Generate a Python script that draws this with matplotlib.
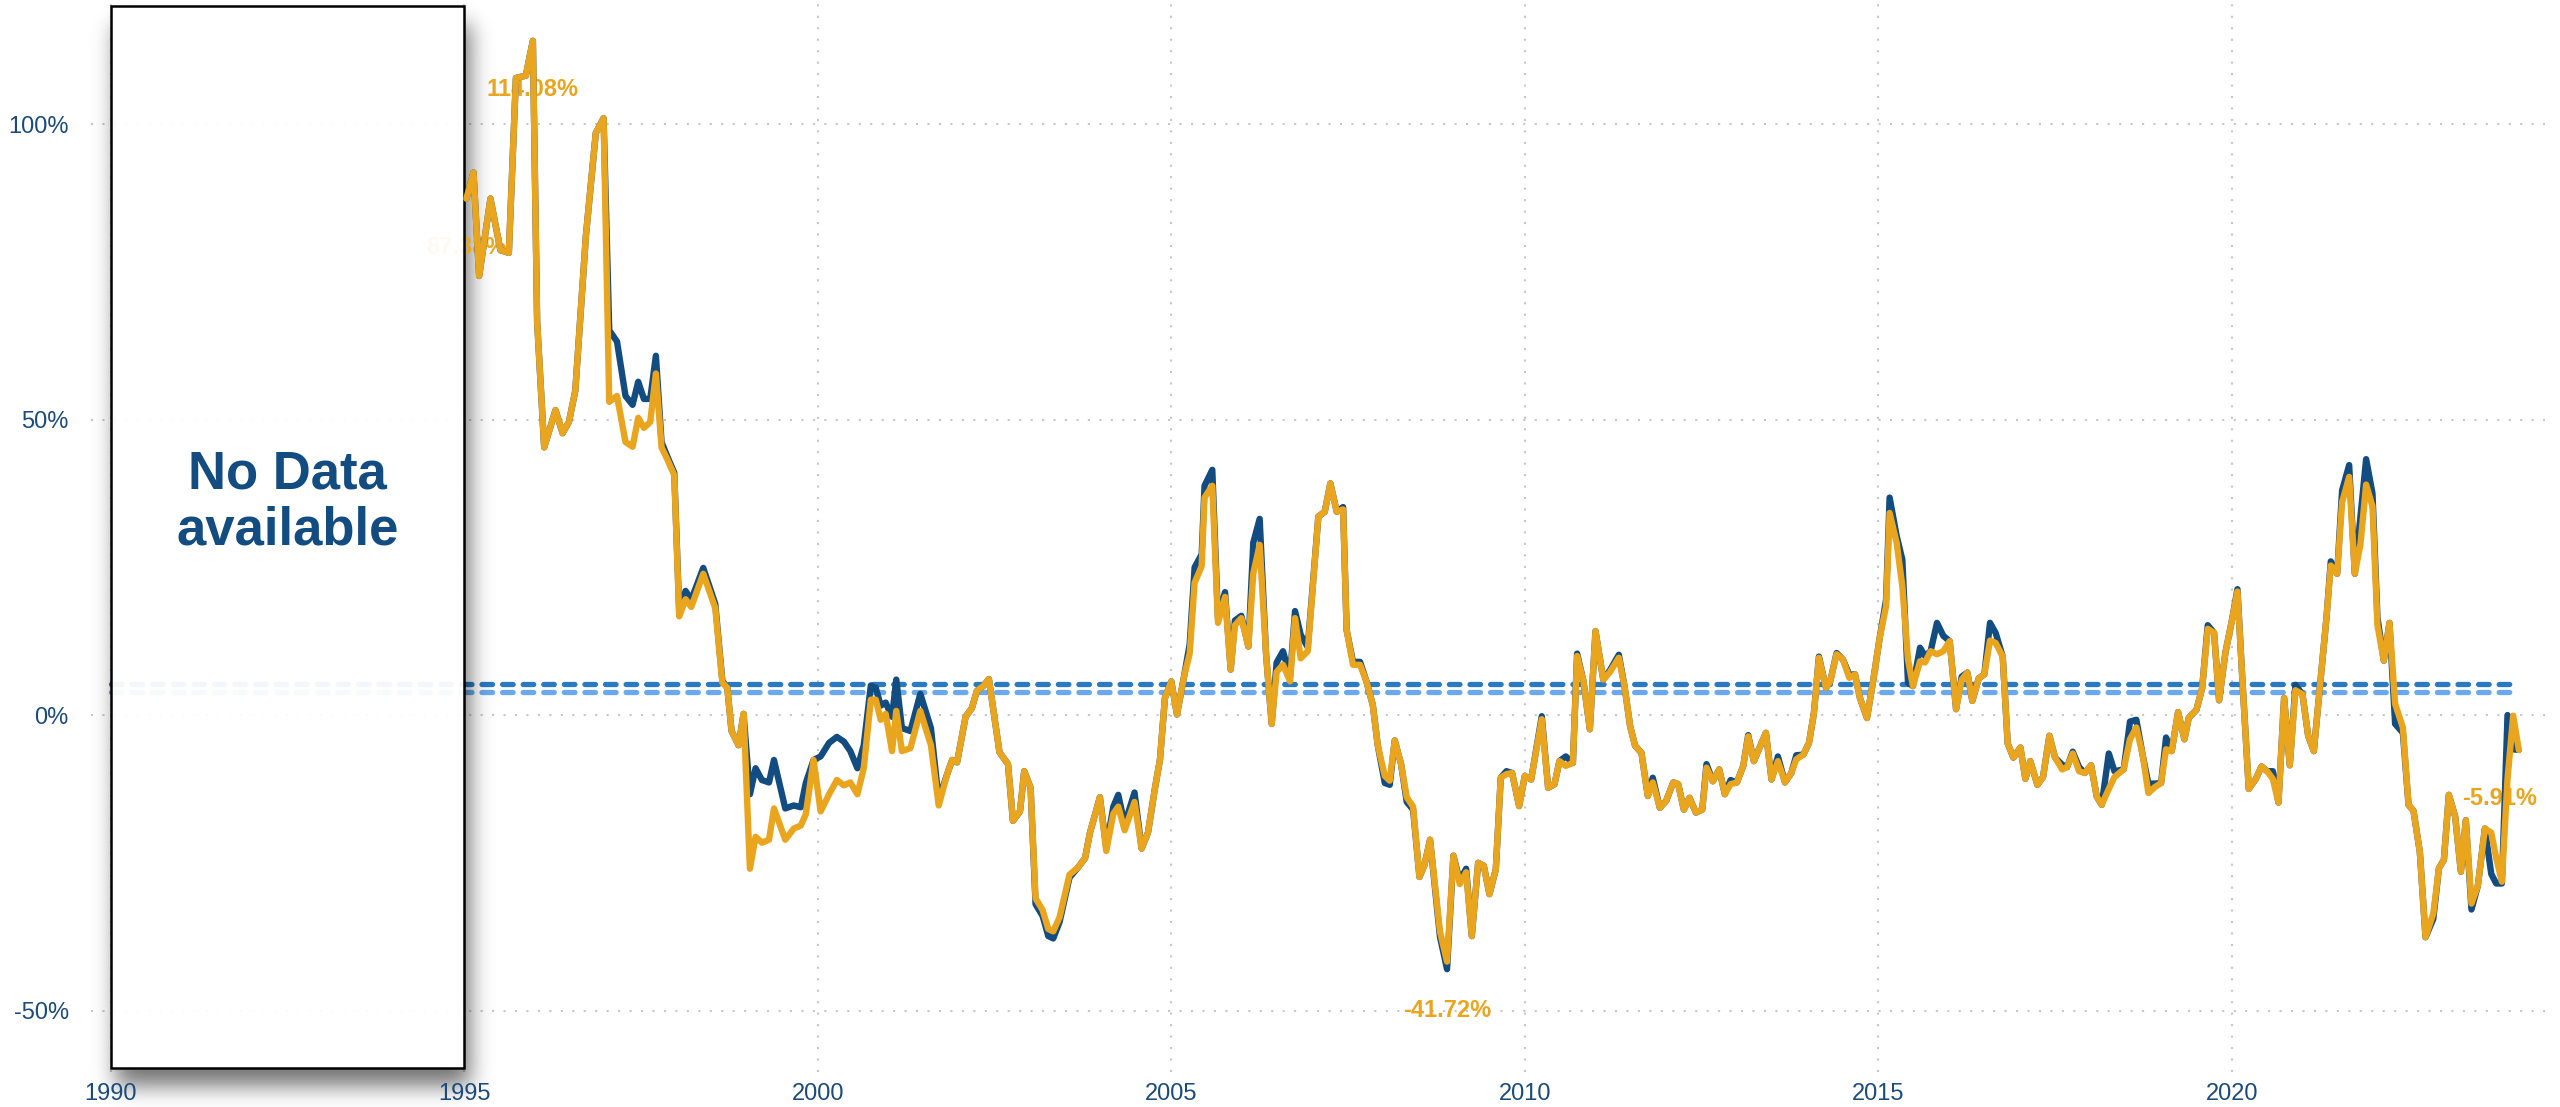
"""
Year-over-year change, two series, with a "No Data" window before 1995.
Output: out.png
"""

import numpy as np
import matplotlib
matplotlib.use("Agg")
import matplotlib.pyplot as plt
from matplotlib.patches import Rectangle

plt.rcParams["font.family"] = ["Liberation Sans", "DejaVu Sans"]

COLORS = {
    "gold": "#eaa51f",
    "navy": "#134c80",
    "ref_dark": "#2a79c1",
    "ref_light": "#6aa9ec",
    "grid": "#c6c6c6",
    "tick": "#1a4b7c",
}

# dates as decimal years
dates = [
    1995.03, 1995.13, 1995.21, 1995.37, 1995.51, 1995.63, 1995.73, 1995.87, 1995.97, 1996.03,
    1996.13, 1996.29, 1996.39, 1996.48, 1996.57, 1996.72, 1996.86, 1996.97, 1997.05, 1997.16,
    1997.28, 1997.38, 1997.46, 1997.54, 1997.63, 1997.71, 1997.79, 1997.87, 1997.97, 1998.04,
    1998.13, 1998.21, 1998.38, 1998.55, 1998.65, 1998.72, 1998.78, 1998.88, 1998.95, 1999.04,
    1999.12, 1999.21, 1999.31, 1999.38, 1999.54, 1999.66, 1999.76, 1999.83, 1999.94, 2000.04,
    2000.16, 2000.27, 2000.37, 2000.46, 2000.56, 2000.65, 2000.75, 2000.82, 2000.89, 2000.96,
    2001.05, 2001.11, 2001.19, 2001.31, 2001.45, 2001.60, 2001.71, 2001.83, 2001.90, 2001.97,
    2002.09, 2002.18, 2002.25, 2002.34, 2002.42, 2002.57, 2002.69, 2002.76, 2002.86, 2002.92,
    2003.01, 2003.08, 2003.18, 2003.26, 2003.33, 2003.42, 2003.56, 2003.68, 2003.78, 2003.85,
    2003.99, 2004.08, 2004.18, 2004.25, 2004.34, 2004.48, 2004.58, 2004.67, 2004.77, 2004.84,
    2004.91, 2005.00, 2005.08, 2005.18, 2005.26, 2005.33, 2005.43, 2005.47, 2005.58, 2005.66,
    2005.76, 2005.84, 2005.90, 2005.99, 2006.09, 2006.16, 2006.25, 2006.34, 2006.42, 2006.49,
    2006.58, 2006.68, 2006.75, 2006.83, 2006.93, 2007.08, 2007.17, 2007.25, 2007.34, 2007.43,
    2007.48, 2007.57, 2007.67, 2007.76, 2007.85, 2007.92, 2008.02, 2008.09, 2008.16, 2008.25,
    2008.33, 2008.42, 2008.51, 2008.58, 2008.66, 2008.80, 2008.90, 2008.99, 2009.08, 2009.17,
    2009.25, 2009.34, 2009.42, 2009.50, 2009.59, 2009.66, 2009.74, 2009.82, 2009.92, 2010.00,
    2010.09, 2010.24, 2010.33, 2010.42, 2010.49, 2010.58, 2010.68, 2010.74, 2010.83, 2010.92,
    2011.00, 2011.11, 2011.20, 2011.33, 2011.41, 2011.49, 2011.56, 2011.65, 2011.74, 2011.81,
    2011.91, 2012.00, 2012.10, 2012.17, 2012.25, 2012.33, 2012.42, 2012.51, 2012.57, 2012.66,
    2012.75, 2012.83, 2012.91, 2013.00, 2013.09, 2013.16, 2013.24, 2013.41, 2013.49, 2013.58,
    2013.68, 2013.77, 2013.84, 2013.94, 2014.02, 2014.09, 2014.16, 2014.26, 2014.32, 2014.41,
    2014.50, 2014.59, 2014.67, 2014.74, 2014.84, 2014.93, 2015.02, 2015.11, 2015.16, 2015.26,
    2015.34, 2015.42, 2015.49, 2015.59, 2015.66, 2015.74, 2015.83, 2015.92, 2016.01, 2016.10,
    2016.18, 2016.26, 2016.33, 2016.42, 2016.50, 2016.58, 2016.66, 2016.76, 2016.83, 2016.91,
    2017.01, 2017.08, 2017.15, 2017.25, 2017.33, 2017.42, 2017.50, 2017.60, 2017.67, 2017.75,
    2017.84, 2017.92, 2018.01, 2018.09, 2018.16, 2018.26, 2018.34, 2018.47, 2018.56, 2018.65,
    2018.74, 2018.82, 2018.91, 2019.00, 2019.07, 2019.15, 2019.24, 2019.33, 2019.39, 2019.50,
    2019.58, 2019.66, 2019.75, 2019.82, 2019.91, 2020.00, 2020.08, 2020.15, 2020.24, 2020.34,
    2020.42, 2020.50, 2020.58, 2020.66, 2020.74, 2020.82, 2020.90, 2021.00, 2021.08, 2021.16,
    2021.25, 2021.34, 2021.40, 2021.49, 2021.56, 2021.66, 2021.74, 2021.82, 2021.90, 2021.99,
    2022.06, 2022.15, 2022.23, 2022.31, 2022.42, 2022.50, 2022.57, 2022.66, 2022.74, 2022.85,
    2022.93, 2023.00, 2023.07, 2023.16, 2023.24, 2023.31, 2023.39, 2023.48, 2023.58, 2023.67,
    2023.74, 2023.82, 2023.90, 2023.98, 2024.06,
]

gold_yoy = [
    87.38, 91.8, 74.3, 87.4, 78.7, 78.2, 107.8, 108.2, 114.08, 66.6,
    45.3, 51.6, 47.7, 49.6, 54.9, 81.1, 98.5, 101.0, 53.0, 54.0,
    46.2, 45.4, 50.3, 48.6, 49.6, 57.8, 45.3, 43.3, 40.6, 16.7,
    19.6, 18.3, 23.9, 18.1, 5.5, 4.6, -2.7, -5.1, 0.2, -26.0,
    -20.6, -21.6, -21.1, -15.8, -21.1, -19.2, -18.7, -16.8, -7.6, -16.3,
    -13.4, -11.0, -11.9, -11.4, -13.4, -9.0, 2.6, 2.6, -0.8, 0.2,
    -6.1, 0.7, -6.1, -5.6, 0.7, -5.1, -15.3, -10.0, -7.6, -8.0,
    -0.3, 1.2, 4.1, 4.9, 6.1, -6.3, -8.3, -17.9, -16.3, -9.5,
    -12.3, -31.0, -33.0, -36.2, -36.6, -34.2, -27.0, -25.8, -24.2, -19.9,
    -13.9, -23.0, -16.7, -15.5, -19.5, -14.7, -22.6, -19.9, -12.3, -7.5,
    2.9, 5.7, 0.1, 6.5, 10.4, 22.4, 25.2, 36.8, 38.8, 15.6,
    20.0, 7.7, 15.2, 16.4, 11.6, 24.0, 28.8, 10.4, -1.5, 7.3,
    8.5, 5.7, 16.4, 9.6, 10.8, 33.6, 34.4, 39.2, 34.4, 34.8,
    14.4, 8.5, 8.5, 5.7, 1.7, -5.1, -10.3, -11.1, -4.3, -8.3,
    -13.9, -15.5, -27.4, -25.4, -21.1, -36.6, -41.72, -23.8, -28.6, -26.6,
    -37.4, -25.0, -25.5, -30.3, -26.1, -10.6, -10.0, -9.8, -15.4, -10.3,
    -10.9, -0.7, -12.3, -11.7, -7.8, -8.6, -8.1, 10.0, 5.7, -2.4,
    14.2, 6.0, 7.2, 9.7, 4.9, -1.9, -5.2, -6.4, -13.7, -11.4,
    -15.7, -14.5, -11.4, -11.7, -16.0, -14.0, -16.5, -16.0, -8.9, -11.2,
    -9.2, -13.4, -11.7, -11.4, -8.6, -3.6, -7.8, -3.0, -10.9, -7.8,
    -11.4, -9.8, -7.5, -6.7, -4.7, 0.4, 9.7, 4.6, 5.7, 10.3,
    9.4, 6.3, 6.9, 2.9, -0.5, 6.0, 13.1, 18.4, 34.2, 29.1,
    21.8, 9.4, 4.9, 9.1, 8.9, 10.8, 10.3, 10.8, 12.5, 1.0,
    6.0, 7.2, 2.4, 6.2, 6.9, 12.6, 12.2, 9.9, -4.8, -7.2,
    -5.5, -10.8, -7.8, -11.8, -10.5, -3.5, -7.2, -9.2, -8.8, -6.5,
    -9.5, -9.8, -8.5, -13.8, -15.2, -12.5, -10.5, -9.2, -4.1, -2.1,
    -6.8, -13.2, -12.2, -11.5, -5.8, -6.1, 0.5, -4.1, -0.5, 0.9,
    4.5, 14.6, 13.9, 2.5, 10.6, 15.9, 20.9, 5.9, -12.5, -10.8,
    -8.7, -9.5, -10.8, -14.8, 2.9, -8.5, 4.2, 3.5, -3.5, -6.1,
    5.2, 16.6, 25.3, 23.9, 36.0, 40.3, 23.9, 28.9, 39.0, 35.3,
    15.2, 9.2, 15.6, 1.9, -2.1, -15.2, -16.2, -23.2, -37.6, -33.6,
    -25.9, -24.5, -13.5, -17.2, -26.5, -17.8, -31.9, -28.9, -19.2, -19.9,
    -24.2, -28.2, -10.8, -0.1, -5.91,
]

navy_yoy = [
    87.4, 91.8, 74.3, 87.4, 78.7, 78.2, 107.8, 108.2, 114.1, 66.6,
    45.3, 51.6, 47.7, 49.6, 54.9, 81.1, 98.5, 101.0, 65.1, 63.2,
    54.0, 52.5, 56.4, 53.5, 53.5, 60.8, 46.2, 43.8, 41.0, 17.5,
    21.0, 19.5, 24.9, 18.8, 5.8, 4.6, -2.7, -5.1, 0.2, -13.4,
    -9.0, -11.0, -11.4, -7.6, -15.8, -15.3, -15.6, -11.5, -7.6, -7.0,
    -4.7, -3.7, -4.5, -6.1, -9.0, -5.1, 5.0, 4.6, 1.6, 2.1,
    -0.3, 6.0, -2.2, -2.7, 3.6, -2.2, -14.3, -10.0, -7.6, -8.0,
    -0.3, 1.2, 4.1, 4.9, 6.1, -6.3, -8.3, -17.9, -16.3, -9.5,
    -12.3, -32.0, -34.0, -37.4, -37.8, -35.0, -27.5, -25.8, -24.2, -19.9,
    -13.9, -22.5, -15.5, -13.5, -18.5, -13.1, -22.6, -19.9, -12.3, -7.5,
    2.9, 5.7, 0.1, 6.5, 12.0, 25.0, 27.2, 38.8, 41.5, 16.5,
    20.8, 7.7, 16.0, 16.8, 11.6, 29.2, 33.2, 10.4, -1.5, 8.9,
    10.8, 6.5, 17.6, 13.6, 11.5, 33.6, 34.4, 39.2, 34.4, 35.2,
    14.4, 9.0, 9.0, 5.7, 1.7, -5.1, -11.5, -11.8, -4.3, -8.3,
    -14.7, -16.0, -27.4, -25.4, -21.1, -37.5, -43.0, -23.8, -28.0, -26.0,
    -37.4, -25.0, -25.5, -30.3, -26.1, -10.6, -9.5, -9.8, -15.4, -10.3,
    -10.9, -0.2, -12.3, -11.7, -7.8, -7.0, -8.1, 10.4, 5.7, -2.4,
    14.2, 6.0, 7.5, 10.2, 4.9, -1.9, -5.2, -6.4, -13.7, -10.6,
    -15.7, -14.5, -11.4, -11.7, -16.0, -14.0, -16.5, -16.0, -8.3, -11.2,
    -9.2, -13.4, -11.0, -11.4, -8.6, -3.4, -7.8, -3.0, -10.9, -7.0,
    -11.4, -9.8, -6.8, -6.7, -4.7, 0.4, 9.9, 4.6, 5.7, 10.5,
    9.4, 6.8, 6.9, 2.9, -0.5, 6.0, 13.1, 19.5, 36.8, 30.3,
    26.3, 5.5, 4.9, 11.4, 10.0, 10.8, 15.6, 13.4, 12.5, 1.0,
    6.5, 7.2, 2.4, 6.2, 6.9, 15.6, 13.9, 9.9, -4.8, -7.2,
    -5.5, -10.8, -7.8, -11.8, -10.5, -3.5, -7.2, -8.4, -8.8, -6.2,
    -8.8, -9.8, -8.5, -13.8, -15.2, -6.5, -9.5, -9.2, -1.1, -0.8,
    -6.8, -11.6, -11.6, -11.5, -3.8, -6.1, 0.5, -4.1, -0.5, 0.9,
    4.5, 15.2, 13.9, 2.5, 10.6, 15.9, 21.3, 5.9, -12.5, -10.8,
    -8.7, -9.5, -9.5, -14.8, 2.9, -8.5, 5.1, 3.5, -3.5, -6.1,
    5.2, 16.6, 26.0, 23.9, 38.0, 42.3, 23.9, 33.6, 43.3, 37.5,
    16.5, 9.2, 15.6, -1.5, -3.0, -15.2, -16.2, -23.2, -37.6, -34.5,
    -25.9, -24.5, -13.5, -17.2, -26.5, -17.8, -32.9, -28.9, -19.2, -26.9,
    -28.5, -28.5, 0.0, -5.8, -5.9,
]

# horizontal reference levels (%)
ref_levels = [5.2, 3.9]
ref_colors = [COLORS["ref_dark"], COLORS["ref_light"]]

x_ticks = [1990, 1995, 2000, 2005, 2010, 2015, 2020]
y_ticks = [-50, 0, 50, 100]

no_data_span = (1990, 1995)
no_data_label = "No Data\navailable"

XLIM = (1989.72, 2024.43)
YLIM = (-60.4, 121.0)


def draw_shadow(ax, x0, x1, y0, y1, sigma=11.0, dx=5, dy=-18, strength=0.55, zorder=0.9):
    """Soft drop shadow around a rectangle (blurred RGBA image, box area cut out)."""
    (px0, py0), (px1, py1) = ax.transData.transform([(x0, y0), (x1, y1)])
    pad = int(4 * sigma) + abs(dy)
    w = int(round(px1 - px0)) + 2 * pad
    h = int(round(py1 - py0)) + 2 * pad
    mask = np.zeros((h, w))
    r0 = pad - dy
    r1 = h - pad - dy
    c0 = pad + dx
    c1 = w - pad + dx
    mask[max(r0, 0):min(r1, h), max(c0, 0):min(c1, w)] = 1.0

    k = np.arange(-int(3 * sigma), int(3 * sigma) + 1)
    kern = np.exp(-k ** 2 / (2 * sigma ** 2))
    kern /= kern.sum()
    mask = np.apply_along_axis(lambda v: np.convolve(v, kern, mode="same"), 0, mask)
    mask = np.apply_along_axis(lambda v: np.convolve(v, kern, mode="same"), 1, mask)

    # keep the inside of the box clean
    mask[pad:h - pad, pad:w - pad] = 0.0

    rgba = np.zeros((h, w, 4))
    rgba[..., 3] = mask * strength

    inv = ax.transData.inverted()
    (ex0, ey0) = inv.transform((px0 - pad, py0 - pad))
    (ex1, ey1) = inv.transform((px1 + pad, py1 + pad))
    ax.imshow(rgba, extent=[ex0, ex1, ey0, ey1], origin="upper", aspect="auto",
              interpolation="bilinear", zorder=zorder, clip_on=False)


def main():
    fig = plt.figure(figsize=(25.6, 11.07), dpi=100, facecolor="white")
    ax = fig.add_axes([91 / 2560, 35 / 1107, (2545 - 91) / 2560, 1072 / 1107])
    ax.set_xlim(*XLIM)
    ax.set_ylim(*YLIM)

    for s in ax.spines.values():
        s.set_visible(False)

    # dotted grid
    for yv in y_ticks:
        ax.axhline(yv, color=COLORS["grid"], lw=1.5, ls=(0, (1, 4.5)), zorder=0.5)
    for xv in x_ticks:
        ax.axvline(xv, color=COLORS["grid"], lw=1.5, ls=(0, (1, 4.5)), zorder=0.5)

    ax.set_xticks(x_ticks)
    ax.set_xticklabels([str(v) for v in x_ticks])
    ax.set_yticks(y_ticks)
    ax.set_yticklabels([f"{v}%" for v in y_ticks])
    ax.tick_params(axis="both", length=0, labelsize=17, colors=COLORS["tick"])
    ax.tick_params(axis="y", pad=16)
    ax.tick_params(axis="x", pad=8)

    # reference levels
    for lvl, col in zip(ref_levels, ref_colors):
        ax.hlines(lvl, no_data_span[0], dates[-1], color=col, lw=3.8,
                  linestyles=[(0, (2.0, 1.9))], capstyle="round", zorder=0.7)

    # series
    ax.plot(dates, navy_yoy, color=COLORS["navy"], lw=4.6,
            solid_joinstyle="round", solid_capstyle="round", zorder=3)
    ax.plot(dates, gold_yoy, color=COLORS["gold"], lw=4.6,
            solid_joinstyle="round", solid_capstyle="round", zorder=4)

    # value labels: first, max, min, last
    g = np.array(gold_yoy)
    marks = [(0, 0), (int(np.argmax(g)), 0), (int(np.argmin(g)), 0), (len(g) - 1, -14)]
    for idx, xoff in marks:
        ax.annotate(f"{g[idx]:.2f}%", (dates[idx], g[idx]), xytext=(xoff, -35),
                    textcoords="offset points", ha="center", va="center",
                    fontsize=17, fontweight="bold", color=COLORS["gold"], zorder=0.95)

    # no-data window
    box_y0, box_y1 = -59.7, 120.0
    draw_shadow(ax, no_data_span[0], no_data_span[1], box_y0, box_y1)
    ax.add_patch(Rectangle((no_data_span[0], box_y0), no_data_span[1] - no_data_span[0],
                           box_y1 - box_y0, facecolor=(1, 1, 1, 0.95), edgecolor="black",
                           lw=1.8, zorder=1.0))
    ax.text(sum(no_data_span) / 2, 36, no_data_label, ha="center", va="center",
            fontsize=38, fontweight="bold", color=COLORS["navy"], linespacing=1.15,
            zorder=1.1)

    ax.set_xlim(*XLIM)
    ax.set_ylim(*YLIM)

    fig.savefig("out.png", dpi=100, facecolor="white")
    plt.close(fig)


if __name__ == "__main__":
    main()
